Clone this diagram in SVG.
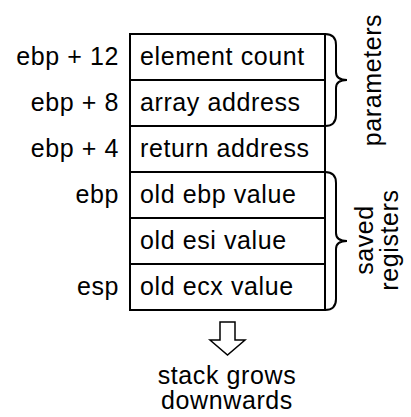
<svg xmlns="http://www.w3.org/2000/svg" width="411" height="417" viewBox="0 0 411 417">
<style>
text{font-family:"Liberation Sans",Arial,sans-serif;font-size:25px;fill:#000;letter-spacing:0.6px}
.r{text-anchor:end}
.m{text-anchor:middle}
.cell{fill:#fff;stroke:#000;stroke-width:2}
.br{fill:none;stroke:#000;stroke-width:2}
</style>
<rect width="411" height="417" fill="#fff"/>
<g id="cells">
<g id="c1"><rect class="cell" x="130" y="34" width="195" height="46"/><text x="140" y="65">element count</text><text class="r" x="119" y="65">ebp + 12</text></g>
<g id="c2"><rect class="cell" x="130" y="80" width="195" height="46"/><text x="140" y="111">array address</text><text class="r" x="119" y="111">ebp + 8</text></g>
<g id="c3"><rect class="cell" x="130" y="126" width="195" height="46"/><text x="140" y="157">return address</text><text class="r" x="119" y="157">ebp + 4</text></g>
<g id="c4"><rect class="cell" x="130" y="172" width="195" height="46"/><text x="140" y="203">old ebp value</text><text class="r" x="119" y="203">ebp</text></g>
<g id="c5"><rect class="cell" x="130" y="218" width="195" height="46"/><text x="140" y="249">old esi value</text></g>
<g id="c6"><rect class="cell" x="130" y="264" width="195" height="46"/><text x="140" y="295">old ecx value</text><text class="r" x="119" y="295">esp</text></g>
</g>
<g id="connectors">
<path class="br" d="M325,34 Q336,34 336,45 L336,72 Q336,80 347,80 Q336,80 336,88 L336,115 Q336,126 325,126"/>
<path class="br" d="M325,172 Q336,172 336,183 L336,233 Q336,241 347,241 Q336,241 336,249 L336,299 Q336,310 325,310"/>
<polygon points="220,322 235,322 235,340 245,340 227.5,355 210,340 220,340" fill="#fff" stroke="#000" stroke-width="1.5"/>
</g>
<g id="labels">
<text class="m" transform="translate(381,80) rotate(-90)">parameters</text>
<text class="m" transform="translate(373,240) rotate(-90)">saved</text>
<text class="m" transform="translate(398,240) rotate(-90)">registers</text>
<text class="m" x="227" y="384">stack grows</text>
<text class="m" x="227" y="409">downwards</text>
</g>
</svg>
